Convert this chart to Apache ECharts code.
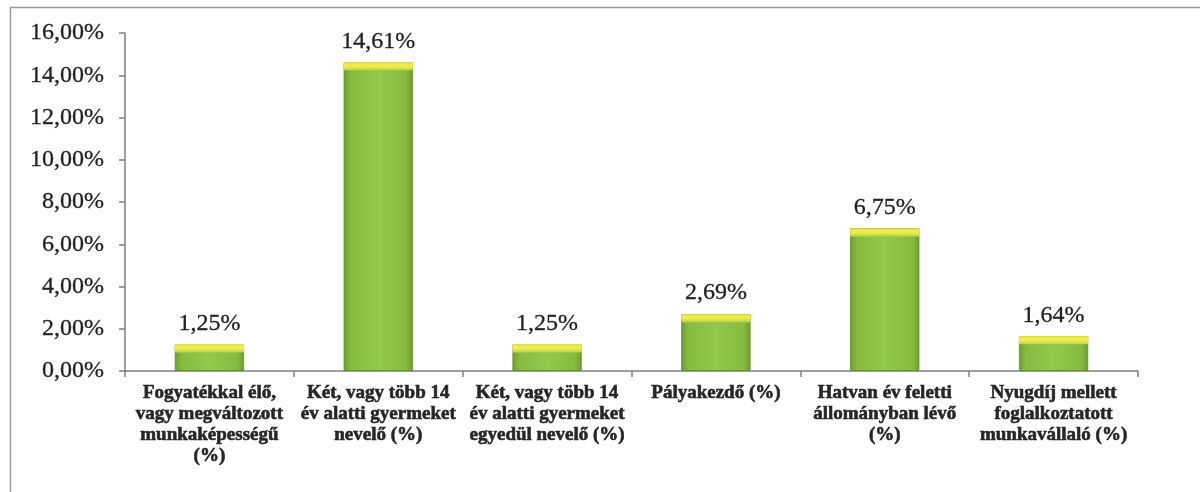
<!DOCTYPE html>
<html>
<head>
<meta charset="utf-8">
<script src="https://cdn.jsdelivr.net/npm/echarts@6/dist/echarts.min.js"></script>
<style>
html,body{margin:0;padding:0;background:#fff;}
#c{width:1200px;height:492px;}
</style>
</head>
<body>
<div id="c"></div>
<script>
const categories = [
  "Fogyatékkal élő,\nvagy megváltozott\nmunkaképességű\n(%)",
  "Két, vagy több 14\név alatti gyermeket\nnevelő (%)",
  "Két, vagy több 14\név alatti gyermeket\negyedül nevelő (%)",
  "Pályakezdő (%)",
  "Hatvan év feletti\nállományban lévő\n(%)",
  "Nyugdíj mellett\nfoglalkoztatott\nmunkavállaló (%)"
];
const values = [1.25, 14.61, 1.25, 2.69, 6.75, 1.64];
const yTicks = [0, 2, 4, 6, 8, 10, 12, 14, 16];

const fmt = v => v.toFixed(2).replace('.', ',') + '%';
const chart = echarts.init(document.getElementById('c'));
chart.setOption({
  animation: false,
  backgroundColor: '#fff',
  graphic: [{
    type: 'rect', left: 8, top: 5,
    shape: {width: 1300, height: 600},
    style: {fill: 'none', stroke: '#9a9a9a', lineWidth: 1.5}
  }],
  grid: {left: 125, right: 62, top: 33, bottom: 121},
  xAxis: {
    type: 'category',
    data: categories,
    axisLine: {lineStyle: {color: '#7f7f7f', width: 1.5}},
    axisTick: {show: true, alignWithLabel: false, length: 6, lineStyle: {color: '#7f7f7f', width: 1.5}},
    axisLabel: {
      interval: 0, margin: 12,
      fontFamily: 'Liberation Serif', fontWeight: 'bold', fontSize: 19,
      lineHeight: 21, color: '#262626',
      textBorderColor: '#262626', textBorderWidth: 0.6
    }
  },
  yAxis: {
    type: 'value', min: yTicks[0], max: yTicks[yTicks.length - 1], interval: 2,
    splitLine: {show: false},
    axisLine: {show: true, lineStyle: {color: '#7f7f7f', width: 1.5}},
    axisTick: {show: true, length: 6, lineStyle: {color: '#7f7f7f', width: 1.5}},
    axisLabel: {
      formatter: fmt, margin: 21,
      fontFamily: 'Liberation Serif', fontSize: 24, color: '#222',
      textBorderColor: '#222', textBorderWidth: 0.3
    }
  },
  series: [{
    type: 'bar',
    data: values,
    barWidth: '41%',
    itemStyle: {
      color: {
        type: 'linear', x: 0, y: 0, x2: 1, y2: 0,
        colorStops: [
          {offset: 0, color: '#6e9e2c'},
          {offset: 0.1, color: '#86bb40'},
          {offset: 0.5, color: '#92c94c'},
          {offset: 0.9, color: '#86bb40'},
          {offset: 1, color: '#6e9e2c'}
        ]
      },
      borderColor: '#5f8a26', borderWidth: 0.8
    },
    label: {
      show: true, position: 'top', distance: 9,
      formatter: p => fmt(p.value),
      fontFamily: 'Liberation Serif', fontSize: 24, color: '#222',
      textBorderColor: '#222', textBorderWidth: 0.3
    },
    z: 2
  }, {
    type: 'pictorialBar',
    data: values,
    barWidth: '41%',
    symbol: 'rect',
    symbolPosition: 'end',
    symbolSize: ['100%', 8],
    symbolOffset: [0, 0],
    itemStyle: {
      color: {
        type: 'linear', x: 0, y: 0, x2: 0, y2: 1,
        colorStops: [
          {offset: 0, color: '#e8e63c'},
          {offset: 0.45, color: '#f2ee52'},
          {offset: 1, color: '#b8d444'}
        ]
      }
    },
    silent: true,
    z: 3
  }]
});
</script>
</body>
</html>
